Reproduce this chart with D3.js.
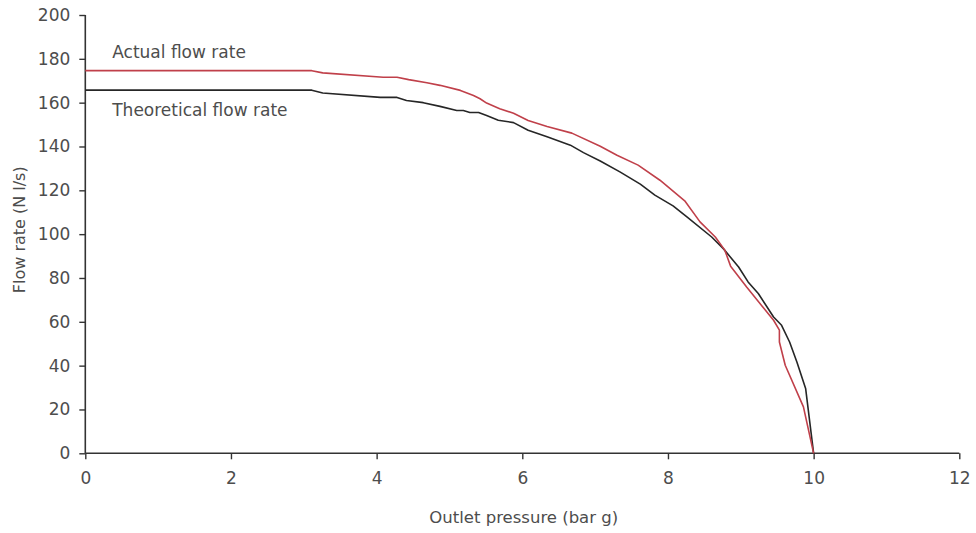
<!DOCTYPE html>
<html>
<head>
<meta charset="utf-8">
<script src="https://cdn.jsdelivr.net/npm/d3@7"></script>
<style>
  html, body { margin: 0; padding: 0; background: #fff; }
  svg text { font-family: "DejaVu Sans", sans-serif; fill: #4d4d4d; }
</style>
</head>
<body>
<svg id="chart" width="976" height="533"></svg>
<script>
// ---- data ----
const xTicks = [0, 2, 4, 6, 8, 10, 12];
const yTicks = [0, 20, 40, 60, 80, 100, 120, 140, 160, 180, 200];

const actualPressure = [0, 3.11, 3.26, 4.09, 4.28, 4.44, 4.69, 4.87, 5.15, 5.33, 5.42, 5.51, 5.69, 5.88, 6.08, 6.34, 6.68, 7.07, 7.30, 7.59, 7.89, 8.23, 8.44, 8.65, 8.78, 8.86, 9.08, 9.45, 9.53, 9.53, 9.61, 9.86, 10.0];
const actualFlow     = [174.6, 174.6, 173.6, 171.6, 171.6, 170.5, 169.1, 167.9, 165.6, 163.3, 161.8, 159.8, 157.2, 155.2, 151.9, 149.1, 146.1, 140.1, 136, 131.5, 124.6, 115.2, 105.6, 98.7, 92.7, 85.4, 75.9, 60.7, 56.2, 50.8, 40.2, 21.2, 0];

const theoPressure = [0, 1.0, 3.11, 3.26, 4.05, 4.28, 4.41, 4.64, 4.87, 5.10, 5.19, 5.28, 5.40, 5.51, 5.67, 5.88, 6.08, 6.34, 6.66, 6.84, 7.07, 7.34, 7.62, 7.82, 8.07, 8.26, 8.60, 8.76, 8.97, 9.10, 9.24, 9.45, 9.56, 9.67, 9.77, 9.89, 10.0];
const theoFlow     = [165.7, 165.7, 165.7, 164.4, 162.4, 162.4, 161, 160, 158.3, 156.4, 156.4, 155.5, 155.5, 154.1, 152, 150.9, 147.4, 144.4, 140.6, 137.2, 133.4, 128.4, 122.8, 117.8, 112.9, 107.9, 98.7, 93.4, 85, 78.2, 72.9, 62.2, 58.4, 50.8, 41.7, 29.6, 0];

const seriesNames = ["Actual flow rate", "Theoretical flow rate"];
const xTitle = "Outlet pressure (bar g)";
const yTitle = "Flow rate (N l/s)";

// ---- drawing ----
const svg = d3.select("#chart");
const x = d3.scaleLinear().domain([0, 12]).range([85.3, 959.3]);
const y = d3.scaleLinear().domain([0, 200]).range([453.3, 15]);

const axisColor = "#333";
const fontSize = 17;

// y axis
const gy = svg.append("g").attr("transform", `translate(${x(0)},0)`)
  .call(d3.axisLeft(y).tickValues(yTicks).tickSize(6).tickPadding(9).tickFormat(d3.format("d")));
// x axis
const gx = svg.append("g").attr("transform", `translate(0,${y(0)})`)
  .call(d3.axisBottom(x).tickValues(xTicks).tickSize(6).tickPadding(13).tickFormat(d3.format("d")));

[gx, gy].forEach(g => {
  g.select(".domain").attr("stroke", axisColor).attr("stroke-width", 1.6);
  g.selectAll(".tick line").attr("stroke", axisColor).attr("stroke-width", 1.4);
  g.selectAll(".tick text").attr("font-size", fontSize).attr("font-family", "DejaVu Sans, sans-serif").attr("fill", "#4d4d4d");
});
gy.select(".domain").attr("d", `M0,${y(200)}V${y(0)}`);
gx.select(".domain").attr("d", `M${x(0)},0H${x(12)}`);

const line = d3.line().x(d => x(d[0])).y(d => y(d[1]));

const theo = theoPressure.map((p, i) => [p, theoFlow[i]]);
const act = actualPressure.map((p, i) => [p, actualFlow[i]]);

svg.append("path").datum(theo)
  .attr("d", line).attr("fill", "none").attr("stroke", "#262626").attr("stroke-width", 1.6)
  .attr("stroke-linejoin", "round");
svg.append("path").datum(act)
  .attr("d", line).attr("fill", "none").attr("stroke", "#c0404a").attr("stroke-width", 1.6)
  .attr("stroke-linejoin", "round");

// series labels
svg.append("text").attr("x", x(0.37)).attr("y", y(180.5)).attr("font-size", fontSize).text(seriesNames[0]);
svg.append("text").attr("x", x(0.37)).attr("y", y(154.1)).attr("font-size", fontSize).text(seriesNames[1]);

// axis titles
svg.append("text").attr("x", x(6.02)).attr("y", 523).attr("text-anchor", "middle")
  .attr("font-size", 16.5).text(xTitle);
svg.append("text").attr("transform", `translate(25,${y(102)}) rotate(-90)`).attr("text-anchor", "middle")
  .attr("font-size", 16).text(yTitle);
</script>
</body>
</html>
